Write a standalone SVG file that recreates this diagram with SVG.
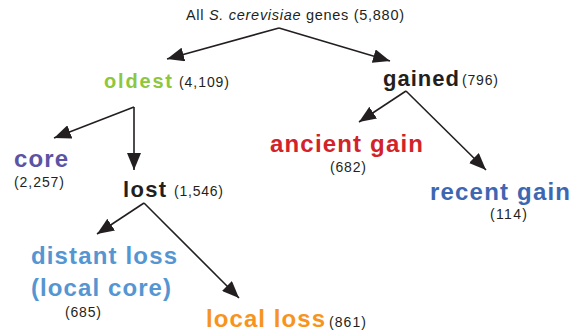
<svg xmlns="http://www.w3.org/2000/svg" width="571" height="334" viewBox="0 0 571 334">
  <style>
    .lbl { font-family: "Liberation Sans", Arial, sans-serif; font-weight: bold; }
    .cnt { font-family: "Liberation Sans", Arial, sans-serif; font-size: 14px; fill: #231f20; }
    .edge { stroke: #231f20; stroke-width: 1.6; fill: none; marker-end: url(#head); }
  </style>
  <defs>
    <marker id="head" markerUnits="userSpaceOnUse" markerWidth="18" markerHeight="14" refX="17" refY="7" orient="auto">
      <path d="M0,0 L17,7 L0,14 Z" fill="#231f20"/>
    </marker>
  </defs>
  <rect width="571" height="334" fill="#ffffff"/>

  <g id="connectors">
    <path class="edge" d="M279,28 L167,59"/>
    <path class="edge" d="M279,28 L390,61"/>
    <path class="edge" d="M134,107 L54,138"/>
    <path class="edge" d="M134,107 L134,170"/>
    <path class="edge" d="M144,203 L97,234"/>
    <path class="edge" d="M144,203 L239,298"/>
    <path class="edge" d="M406,91 L359,122"/>
    <path class="edge" d="M406,91 L486,170"/>
  </g>

  <g id="all-genes">
    <text x="186" y="20" font-family="Liberation Sans, Arial, sans-serif" font-size="14.5" fill="#231f20" textLength="218" lengthAdjust="spacing">All <tspan font-style="italic">S. cerevisiae</tspan> genes (5,880)</text>
  </g>

  <g id="oldest">
    <text class="lbl" x="104" y="88" font-size="20" fill="#8dc63f" textLength="68" lengthAdjust="spacing">oldest</text>
    <text class="cnt" x="179" y="87" textLength="50" lengthAdjust="spacing">(4,109)</text>
  </g>

  <g id="gained">
    <text class="lbl" x="383" y="86" font-size="22" fill="#231f20" textLength="76" lengthAdjust="spacing">gained</text>
    <text class="cnt" x="462" y="85" textLength="36" lengthAdjust="spacing">(796)</text>
  </g>

  <g id="core">
    <text class="lbl" x="14" y="167" font-size="24" fill="#5b53a4" textLength="54" lengthAdjust="spacing">core</text>
    <text class="cnt" x="14" y="187" textLength="50" lengthAdjust="spacing">(2,257)</text>
  </g>

  <g id="lost">
    <text class="lbl" x="123" y="197" font-size="22" fill="#231f20" textLength="43" lengthAdjust="spacing">lost</text>
    <text class="cnt" x="174" y="196" textLength="49" lengthAdjust="spacing">(1,546)</text>
  </g>

  <g id="ancient-gain">
    <text class="lbl" x="270" y="152" font-size="24" fill="#d2232a" textLength="153" lengthAdjust="spacing">ancient gain</text>
    <text class="cnt" x="330" y="172" textLength="36" lengthAdjust="spacing">(682)</text>
  </g>

  <g id="recent-gain">
    <text class="lbl" x="430" y="200" font-size="24" fill="#3d67b1" textLength="140" lengthAdjust="spacing">recent gain</text>
    <text class="cnt" x="490" y="219" textLength="37" lengthAdjust="spacing">(114)</text>
  </g>

  <g id="distant-loss">
    <text class="lbl" x="31" y="264" font-size="24" fill="#5596d2" textLength="146" lengthAdjust="spacing">distant loss</text>
    <text class="lbl" x="31" y="296" font-size="24" fill="#5596d2" textLength="140" lengthAdjust="spacing">(local core)</text>
    <text class="cnt" x="65" y="317" textLength="36" lengthAdjust="spacing">(685)</text>
  </g>

  <g id="local-loss">
    <text class="lbl" x="206" y="327" font-size="24" fill="#f7941d" textLength="119" lengthAdjust="spacing">local loss</text>
    <text class="cnt" x="329" y="327" textLength="37" lengthAdjust="spacing">(861)</text>
  </g>
</svg>
